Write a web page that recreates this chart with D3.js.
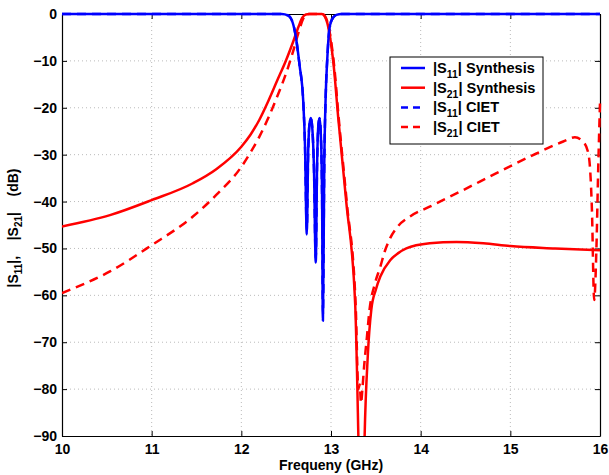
<!DOCTYPE html>
<html><head><meta charset="utf-8">
<script src="https://d3js.org/d3.v7.min.js"></script>
<style>body{margin:0;background:#fff}text{font-family:"Liberation Sans",Arial,sans-serif;font-weight:bold;fill:#000;white-space:pre}</style>
</head><body><svg id="c" width="609" height="475"></svg>
<script>
const xTicks=[10,11,12,13,14,15,16];
const xTickLabels=["10","11","12","13","14","15","16"];
const yTicks=[0,-10,-20,-30,-40,-50,-60,-70,-80,-90];
const yTickLabels=["0","\u221210","\u221220","\u221230","\u221240","\u221250","\u221260","\u221270","\u221280","\u221290"];

const s11Synthesis=[[10,0],[12.45,0],[12.52,-0.3],[12.56,-1.2],[12.6,-4],[12.65,-11],[12.69,-18.5],[12.71,-28],[12.73,-47],[12.745,-30],[12.76,-23.5],[12.775,-22.2],[12.79,-24],[12.81,-33],[12.83,-53],[12.845,-32],[12.86,-23.5],[12.873,-22.2],[12.885,-25],[12.90,-38],[12.91,-65.4],[12.925,-32],[12.94,-18],[12.96,-9],[12.98,-3.5],[13.01,-1.2],[13.06,-0.2],[13.12,0],[16,0]];
const s11CIET=[[10,0],[12.45,0],[12.52,-0.3],[12.56,-1.2],[12.6,-4],[12.65,-11],[12.69,-18.5],[12.71,-28],[12.73,-46],[12.745,-30],[12.76,-23.5],[12.775,-22.3],[12.79,-24],[12.81,-33],[12.83,-52],[12.845,-32],[12.86,-23.5],[12.873,-22.3],[12.885,-25],[12.90,-38],[12.91,-64],[12.925,-32],[12.94,-18],[12.96,-9],[12.98,-3.5],[13.01,-1.2],[13.06,-0.2],[13.12,0],[16,0]];
const s21Synthesis=[[10,-45.3],[10.535,-42.9],[11,-39.7],[11.46,-36.1],[11.72,-33.1],[12,-28.3],[12.1,-25.8],[12.2,-22.6],[12.3,-18.6],[12.4,-14.2],[12.5,-9.8],[12.58,-5.8],[12.64,-2.6],[12.68,-0.8],[12.72,-0.1],[12.76,0],[12.90,0],[12.93,-0.5],[12.96,-2],[12.99,-5],[13.03,-11],[13.08,-22],[13.17,-40],[13.27,-62],[13.305,-90],[13.325,-110],[13.355,-110],[13.375,-90],[13.41,-73],[13.45,-63],[13.50,-58.8],[13.55,-56],[13.66,-52.5],[13.75,-51],[13.84,-50],[14.1,-48.9],[14.4,-48.6],[14.7,-48.9],[15.0,-49.5],[15.5,-50],[16,-50.4]];
const s21CIET=[[10,-59.5],[10.535,-54.9],[11,-49.3],[11.46,-43.2],[11.72,-38.6],[12,-32.6],[12.1,-29.6],[12.2,-26.2],[12.3,-22.2],[12.4,-17.6],[12.5,-12.6],[12.58,-7.8],[12.64,-3.8],[12.69,-1.0],[12.74,0],[12.90,0],[12.935,-0.5],[12.965,-2],[12.995,-5],[13.035,-11],[13.085,-22],[13.175,-40],[13.275,-62],[13.305,-80],[13.32,-79],[13.335,-83],[13.35,-80],[13.37,-75],[13.40,-69],[13.43,-63],[13.49,-57.5],[13.55,-53.9],[13.60,-50.6],[13.66,-47.8],[13.75,-45.2],[13.88,-43.2],[14.1,-41.1],[14.48,-37.5],[14.84,-34],[15.22,-30.4],[15.59,-27.2],[15.72,-26.3],[15.81,-27.2],[15.87,-29.7],[15.91,-41.8],[15.935,-61],[15.96,-50],[15.98,-33],[16,-19]];

const series=[
 {name:"11",label:" Synthesis",data:s11Synthesis,color:"#0000ff",dash:null},
 {name:"21",label:" Synthesis",data:s21Synthesis,color:"#ff0000",dash:null},
 {name:"11",label:" CIET",data:s11CIET,color:"#0000ff",dash:"9,6"},
 {name:"21",label:" CIET",data:s21CIET,color:"#ff0000",dash:"9,6"}
];

const L=62,R=600,T=14,B=436;
const x=d3.scaleLinear().domain([10,16]).range([L,R]);
const y=d3.scaleLinear().domain([-90,0]).range([B,T]);
const svg=d3.select("#c");
const FF="Liberation Sans, Arial, sans-serif";

// grid
const g=svg.append("g");
g.selectAll(".vg").data(xTicks.slice(1,-1)).enter().append("line")
 .attr("x1",d=>x(d)).attr("x2",d=>x(d)).attr("y1",T).attr("y2",B)
 .attr("stroke","#bbb").attr("stroke-width",1).attr("stroke-dasharray","1,3");
g.selectAll(".hg").data(yTicks.slice(1,-1)).enter().append("line")
 .attr("y1",d=>y(d)).attr("y2",d=>y(d)).attr("x1",L).attr("x2",R)
 .attr("stroke","#bbb").attr("stroke-width",1).attr("stroke-dasharray","1,3");

// axes
const xa=svg.append("g").attr("transform",`translate(0,${B})`)
 .call(d3.axisBottom(x).tickValues(xTicks).tickFormat((d,i)=>xTickLabels[i]).tickSizeInner(-5).tickSizeOuter(0).tickPadding(8));
const ya=svg.append("g").attr("transform",`translate(${L},0)`)
 .call(d3.axisLeft(y).tickValues(yTicks).tickFormat((d,i)=>yTickLabels[i]).tickSizeInner(-5).tickSizeOuter(0).tickPadding(5));
const xt=svg.append("g").attr("transform",`translate(0,${T})`)
 .call(d3.axisTop(x).tickValues(xTicks).tickFormat("").tickSizeInner(-5).tickSizeOuter(0));
const yr=svg.append("g").attr("transform",`translate(${R},0)`)
 .call(d3.axisRight(y).tickValues(yTicks).tickFormat("").tickSizeInner(-5).tickSizeOuter(0));
[xa,ya,xt,yr].forEach(a=>{a.selectAll("path").attr("stroke","#000").attr("stroke-width",1.2);
 a.selectAll("line").attr("stroke","#000");
 a.selectAll("text").attr("font-size",14).attr("font-weight","bold").attr("fill","#000").attr("font-family",FF);});

// curves
svg.append("clipPath").attr("id","cp").append("rect").attr("x",L).attr("y",T-3).attr("width",R-L+2).attr("height",B-T+3);
const line=d3.line().x(d=>x(d[0])).y(d=>y(d[1])).curve(d3.curveMonotoneX);
const cg=svg.append("g").attr("clip-path","url(#cp)");
[series[2],series[3],series[1],series[0]].forEach(s=>{
 cg.append("path").attr("d",line(s.data)).attr("fill","none").attr("stroke",s.color)
  .attr("stroke-width",2.5).attr("stroke-dasharray",s.dash).attr("stroke-linejoin","round");
});

// labels
svg.append("text").attr("x",331).attr("y",470).attr("text-anchor","middle").attr("font-size",14).attr("font-family",FF).text("Frequeny (GHz)");
const yl=svg.append("text").attr("transform","translate(18,228) rotate(-90)").attr("text-anchor","middle").attr("font-size",14).attr("font-family",FF);
yl.append("tspan").text("|S");
yl.append("tspan").attr("font-size",10).attr("dy",4).text("11");
yl.append("tspan").attr("dy",-4).text("|,    |S");
yl.append("tspan").attr("font-size",10).attr("dy",4).text("21");
yl.append("tspan").attr("dy",-4).text("|    (dB)");

// legend
const lg=svg.append("g");
lg.append("rect").attr("x",390).attr("y",57).attr("width",153).attr("height",87).attr("fill","#fff").attr("stroke","#000").attr("stroke-width",1);
const texts=[];
series.forEach((s,i)=>{
 const yy=68+i*19.7;
 lg.append("line").attr("x1",401).attr("x2",425).attr("y1",yy).attr("y2",yy)
  .attr("stroke",s.color).attr("stroke-width",2.5).attr("stroke-dasharray",s.dash?"7,5":null);
 const t=lg.append("text").attr("x",433).attr("y",yy+5).attr("font-size",14).attr("font-family",FF);
 t.append("tspan").attr("class","m").text("|S");
 t.append("tspan").attr("class","s").attr("font-size",10).attr("dy",5).text(s.name);
 t.append("tspan").attr("class","m").attr("dy",-5).text("|"+s.label);
 texts.push(t);
});
// fit the legend text to the width seen in the reference (|S11| Synthesis spans ~102 px)
const w=texts[0].node().getComputedTextLength();
if(w>0){
 const k=Math.min(1.15,Math.max(0.8,102/w));
 texts.forEach(t=>{t.attr("font-size",14*k);t.selectAll("tspan.s").attr("font-size",10*k);});
}
</script></body></html>
